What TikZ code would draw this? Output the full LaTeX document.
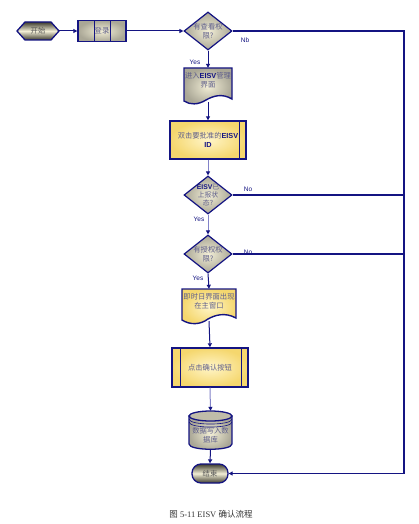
\documentclass[tikz,border=0pt]{standalone}
\usepackage{fontspec}
\setmainfont{Liberation Serif}
\newfontfamily\cjk{Noto Sans CJK SC}
\newfontfamily\lsans{Liberation Sans}
\usetikzlibrary{shapes.geometric,arrows.meta}
\definecolor{navy}{RGB}{20,20,130}
\definecolor{lnavy}{RGB}{130,130,200}
\definecolor{ntext}{RGB}{95,95,140}
\definecolor{cream}{RGB}{242,238,214}
\definecolor{greyc}{RGB}{170,167,150}
\definecolor{yel}{RGB}{245,215,110}
\definecolor{yell}{RGB}{255,245,200}
\definecolor{darkc}{RGB}{60,58,45}
\newcommand{\eisv}{{\lsans\bfseries\color{navy}EISV}}
\begin{document}
\begin{tikzpicture}[x=1pt,y=-1pt,
  txt/.style={align=center, text=ntext, font=\cjk\fontsize{7.3}{8.8}\selectfont, inner sep=0pt},
  greybox/.style={draw=navy, line width=1.4pt, inner sep=0pt, inner color=cream, outer color=greyc},
  yelbox/.style={draw=navy, line width=1.4pt, inner sep=0pt, inner color=yell, outer color=yel},
  dia/.style={diamond, draw=navy, line width=1.2pt, minimum width=48, minimum height=38, inner sep=0pt, inner color=cream, outer color=greyc},
  ghost/.style={rectangle, draw=none, inner sep=0pt},
  conn/.style={draw=navy, line width=1pt, -{Triangle[length=4pt,width=4pt]}},
  lconn/.style={draw=lnavy, line width=1pt, -{Triangle[length=4pt,width=4pt,color=navy]}},
  noline/.style={draw=navy, line width=1.2pt},
  lbl/.style={text=navy, font=\lsans\fontsize{6.5}{7}\selectfont, inner sep=0pt},
  darktxt/.style={text=black!65, font=\cjk\fontsize{7.3}{8}\selectfont, inner sep=0pt}
]
\useasboundingbox (0,0) rectangle (418,524);
\fill[white] (0,0) rectangle (418,524);

% start hexagon
\draw[navy, line width=1.3pt, top color=darkc, bottom color=darkc, middle color=cream]
  (17,31) -- (25,22) -- (51,22) -- (59,31) -- (51,40) -- (25,40) -- cycle;
\node[ghost, minimum width=42, minimum height=18] (start) at (38,31) {};
\node[darktxt] at (start) {开始};

% login
\node[greybox, minimum width=48, minimum height=21] (login) at (102,31) {};
\draw[navy, line width=0.5pt] (94,21) -- (94,41) (110,21) -- (110,41);
\node[txt] at (login) {登录};

% diamond 1
\node[dia] (d1) at (208,31) {};
\node[txt] at (d1) {有查看权\\限?};

% document 1
\draw[navy, line width=1.4pt, inner color=cream, outer color=greyc]
  (184,68) -- (232,68) -- (232,99) .. controls (222,93) and (213,96) .. (206,100)
  .. controls (198,105) and (190,105) .. (184,101) -- cycle;
\node[ghost, minimum width=48, minimum height=34] (doc1) at (208,85) {};
\node[txt] at (208,80) {进入\eisv 管理\\界面};

% rect 1
\node[yelbox, minimum width=76, minimum height=38] (r1) at (208,140) {};
\draw[navy, line width=0.8pt] (239,121) -- (239,159);
\node[txt] at (r1) {双击要批准的\eisv\\{\lsans\bfseries\color{navy}ID}};

% diamond 2
\node[dia] (d2) at (208,195) {};
\node[txt, font=\cjk\fontsize{6.8}{7.6}\selectfont] at (d2) {\eisv 已\\上报状\\态?};

% diamond 3
\node[dia] (d3) at (208,254) {};
\node[txt] at (d3) {有授权权\\限?};

% document 2
\draw[navy, line width=1.4pt, inner color=yell, outer color=yel]
  (182,289) -- (236,289) -- (236,318) .. controls (225,312) and (215,315) .. (208,319)
  .. controls (200,325) and (190,325) .. (182,320) -- cycle;
\node[ghost, minimum width=54, minimum height=32] (doc2) at (209,305) {};
\node[txt] at (209,301) {即时日界面出现\\在主窗口};

% rect 3
\node[yelbox, minimum width=76, minimum height=39] (r3) at (210,367.5) {};
\draw[navy, line width=0.8pt] (241,348) -- (241,387) (180,348) -- (180,387);
\node[txt] at (r3) {点击确认按钮};

% database
\draw[navy, line width=1.3pt, inner color=cream, outer color=greyc]
  (189,416) -- (189,444) .. controls (189,451) and (232,451) .. (232,444) -- (232,416) -- cycle;
\draw[navy, line width=1.3pt, fill=greyc!70!cream] (210.5,416) ellipse [x radius=21.5, y radius=5];
\draw[navy, line width=0.6pt] (189,419) .. controls (189,425.7) and (232,425.7) .. (232,419);
\draw[navy, line width=0.6pt] (189,422) .. controls (189,428.7) and (232,428.7) .. (232,422);
\node[ghost, minimum width=43, minimum height=38] (db) at (210.5,430) {};
\node[txt] at (210.5,435) {数据写入数\\据库};

% end
\node[draw=navy, line width=1.3pt, rounded corners=9pt, minimum width=36, minimum height=19, inner sep=0pt,
      top color=darkc, bottom color=darkc, middle color=cream] (endn) at (210,473.5) {};
\node[darktxt] at (endn) {结束};

% connectors
\draw[conn] (start.east) -- (login.west);
\draw[conn] (login.east) -- (d1.west);
\draw[conn] (d1.south) -- (doc1.north);
\draw[conn] (doc1.south) -- (r1.north);
\draw[lconn] (r1.south) -- (d2.north);
\draw[lconn] (d2.south) -- (d3.north);
\draw[conn] (d3.south) -- (doc2.north);
\draw[conn] (doc2.south) -- (r3.north);
\draw[lconn] (r3.south) -- (db.north);
\draw[conn] (db.south) -- (endn.north);

\coordinate (rt) at (404,31);
\draw[noline, -{Triangle[length=4pt,width=4pt]}] (d1.east) -- (rt) |- (endn.east);
\coordinate (rt2) at (404,195);
\coordinate (rt3) at (404,254);
\draw[noline] (d2.east) -- (rt2);
\draw[noline] (d3.east) -- (rt3);

% labels
\node[lbl] at (245,40) {Nb};
\node[lbl] at (195,62) {Yes};
\node[lbl] at (248,189) {No};
\node[lbl] at (199,219) {Yes};
\node[lbl] at (248,252) {No};
\node[lbl] at (198,278) {Yes};

% caption
\node[font=\fontsize{8.5}{10}\selectfont, text=black!80, inner sep=0pt] at (211,514) {{\cjk 图} 5-11 EISV {\cjk 确认流程}};
\end{tikzpicture}
\end{document}
